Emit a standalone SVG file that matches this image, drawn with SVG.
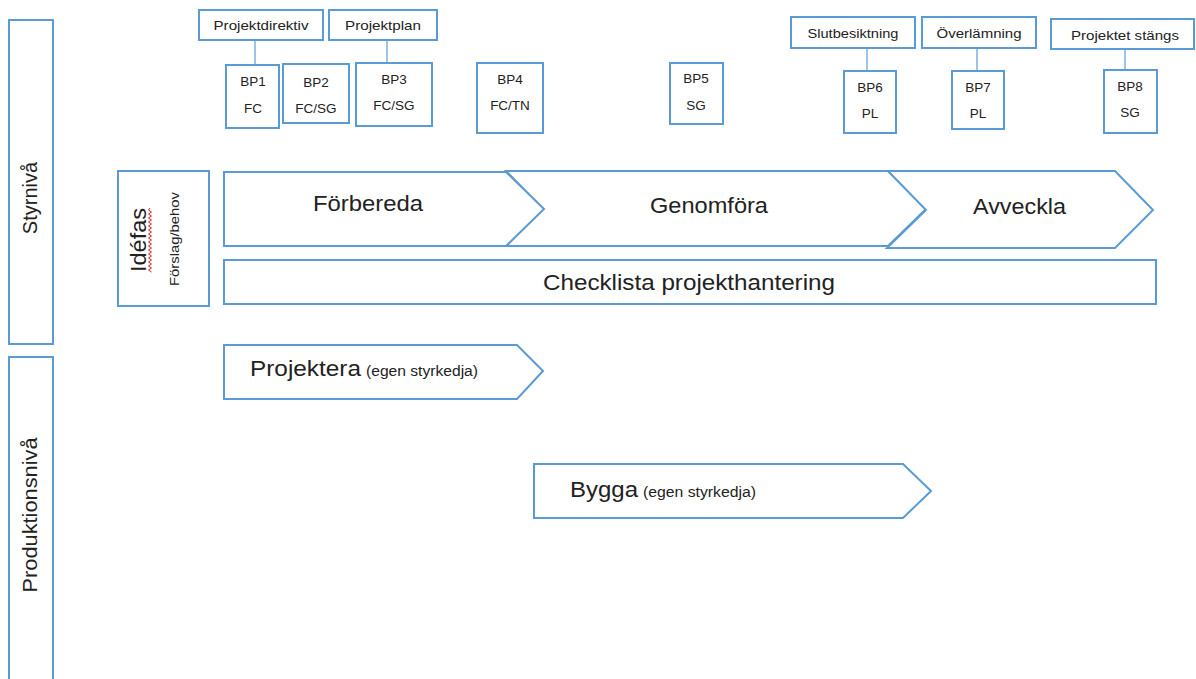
<svg xmlns="http://www.w3.org/2000/svg" width="1196" height="679" viewBox="0 0 1196 679">
<style>
.box{fill:#fff;stroke:#5b9bd5;stroke-width:2}
.conn{stroke:#9dc3e6;stroke-width:2;fill:none}
text{font-family:"Liberation Sans",Arial,sans-serif;fill:#222}
.s{font-size:13.5px;text-anchor:middle}
.b{font-size:22px}
.m{font-size:14px}
</style>
<rect width="1196" height="679" fill="#fff"/>
<g id="connectors">
<line class="conn" x1="255" y1="40" x2="255" y2="65"/>
<line class="conn" x1="387" y1="40" x2="387" y2="63"/>
<line class="conn" x1="867" y1="48" x2="867" y2="71"/>
<line class="conn" x1="977" y1="48" x2="977" y2="71"/>
<line class="conn" x1="1125" y1="49" x2="1125" y2="70"/>
</g>
<g id="styrniva"><rect class="box" x="9" y="20" width="44" height="324"/><text transform="translate(37,198) rotate(-90)" font-size="20" text-anchor="middle">Styrnivå</text></g>
<g id="produktionsniva"><rect class="box" x="9" y="357" width="44" height="340"/><text transform="translate(37,515) rotate(-90)" font-size="20" text-anchor="middle" textLength="155" lengthAdjust="spacingAndGlyphs">Produktionsnivå</text></g>
<g id="projektdirektiv"><rect class="box" x="199" y="10" width="124" height="30"/><text class="s" x="261" y="30" textLength="95" lengthAdjust="spacingAndGlyphs">Projektdirektiv</text></g>
<g id="projektplan"><rect class="box" x="329" y="10" width="108" height="30"/><text class="s" x="383" y="30" textLength="76" lengthAdjust="spacingAndGlyphs">Projektplan</text></g>
<g id="slutbesiktning"><rect class="box" x="791" y="17" width="124" height="31"/><text class="s" x="853" y="38" textLength="91" lengthAdjust="spacingAndGlyphs">Slutbesiktning</text></g>
<g id="overlamning"><rect class="box" x="922" y="17" width="114" height="31"/><text class="s" x="979" y="38" textLength="85" lengthAdjust="spacingAndGlyphs">Överlämning</text></g>
<g id="projektet-stangs"><rect class="box" x="1051" y="19" width="143" height="30"/><text class="s" x="1125" y="40" textLength="108" lengthAdjust="spacingAndGlyphs">Projektet stängs</text></g>
<g id="bp1"><rect class="box" x="226" y="65" width="53" height="63"/><text class="s" x="253" y="86">BP1</text><text class="s" x="253" y="113">FC</text></g>
<g id="bp2"><rect class="box" x="283" y="64" width="66" height="59"/><text class="s" x="316" y="87">BP2</text><text class="s" x="316" y="113">FC/SG</text></g>
<g id="bp3"><rect class="box" x="356" y="63" width="76" height="63"/><text class="s" x="394" y="84">BP3</text><text class="s" x="394" y="110">FC/SG</text></g>
<g id="bp4"><rect class="box" x="477" y="63" width="66" height="70"/><text class="s" x="510" y="84">BP4</text><text class="s" x="510" y="110">FC/TN</text></g>
<g id="bp5"><rect class="box" x="670" y="63" width="53" height="61"/><text class="s" x="696" y="83">BP5</text><text class="s" x="696" y="110">SG</text></g>
<g id="bp6"><rect class="box" x="844" y="71" width="52" height="62"/><text class="s" x="870" y="92">BP6</text><text class="s" x="870" y="118">PL</text></g>
<g id="bp7"><rect class="box" x="952" y="71" width="52" height="58"/><text class="s" x="978" y="92">BP7</text><text class="s" x="978" y="118">PL</text></g>
<g id="bp8"><rect class="box" x="1104" y="70" width="53" height="63"/><text class="s" x="1130" y="91">BP8</text><text class="s" x="1130" y="117">SG</text></g>
<g id="idefas"><rect class="box" x="118" y="171" width="91" height="135"/>
<text transform="translate(146,240) rotate(-90)" class="b" text-anchor="middle" textLength="64" lengthAdjust="spacingAndGlyphs">Idéfas</text>
<path d="M150,208 l-1.5,2 l3,2 l-3,2 l3,2 l-3,2 l3,2 l-3,2 l3,2 l-3,2 l3,2 l-3,2 l3,2 l-3,2 l3,2 l-3,2 l3,2 l-3,2 l3,2 l-3,2 l3,2 l-3,2 l3,2 l-3,2 l3,2 l-3,2 l3,2 l-3,2 l3,2 l-3,2 l3,2 l-3,2 l3,2" fill="none" stroke="#e02020" stroke-width="1"/>
<text transform="translate(179,239) rotate(-90)" font-size="13" text-anchor="middle" textLength="94" lengthAdjust="spacingAndGlyphs">Förslag/behov</text></g>
<g id="genomfora"><polygon class="box" points="506,171 888,171 926,209 888,246 506,246 543,209"/><text class="b" x="650" y="213" textLength="118" lengthAdjust="spacingAndGlyphs">Genomföra</text></g>
<g id="avveckla"><polygon class="box" points="888,171 1115,171 1153,210 1115,248 887,248 926,210"/><text class="b" x="973" y="214" textLength="93" lengthAdjust="spacingAndGlyphs">Avveckla</text></g>
<g id="forbereda"><polygon class="box" points="224,172 506,172 544,209 506,246 224,246"/><text class="b" x="313" y="211" textLength="110" lengthAdjust="spacingAndGlyphs">Förbereda</text></g>
<g id="checklista"><rect class="box" x="224" y="260" width="932" height="44"/><text class="b" x="543" y="290" textLength="292" lengthAdjust="spacingAndGlyphs">Checklista projekthantering</text></g>
<g id="projektera"><polygon class="box" points="224,345 517,345 543,371 517,399 224,399"/><text class="b" x="250" y="376" textLength="111" lengthAdjust="spacingAndGlyphs">Projektera</text><text class="m" x="366" y="376" textLength="112" lengthAdjust="spacingAndGlyphs">(egen styrkedja)</text></g>
<g id="bygga"><polygon class="box" points="534,464 903,464 931,491 903,518 534,518"/><text class="b" x="570" y="497" textLength="68" lengthAdjust="spacingAndGlyphs">Bygga</text><text class="m" x="643" y="497" textLength="113" lengthAdjust="spacingAndGlyphs">(egen styrkedja)</text></g>
</svg>
